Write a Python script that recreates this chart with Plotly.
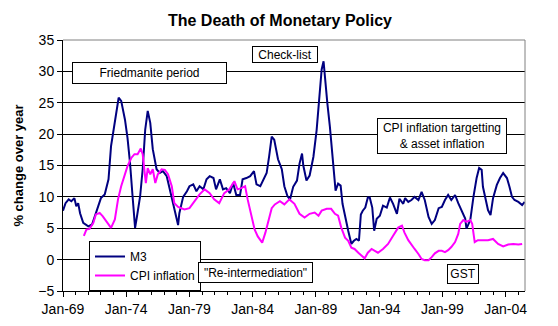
import plotly.graph_objects as go
from datetime import datetime, timedelta

# ---- data (decimal years, % change over year) ----
m3_year = [1969.0, 1969.2, 1969.45, 1969.66, 1969.9, 1970.05, 1970.2, 1970.35, 1970.6, 1971.0,
           1971.3, 1971.5, 1971.8, 1972.0, 1972.3, 1972.6, 1972.8, 1973.1, 1973.4, 1973.6,
           1973.9, 1974.1, 1974.3, 1974.5, 1974.7, 1974.85, 1975.1, 1975.3, 1975.5, 1975.7,
           1975.9, 1976.1, 1976.4, 1976.65, 1976.9, 1977.2, 1977.4, 1977.7, 1978.0, 1978.1,
           1978.2, 1978.5, 1978.8, 1979.0, 1979.3, 1979.55, 1979.8, 1980.1, 1980.35, 1980.6,
           1980.9, 1981.1, 1981.4, 1981.65, 1981.9, 1982.2, 1982.45, 1982.7, 1983.0, 1983.2,
           1983.5, 1983.8, 1984.1, 1984.3, 1984.6, 1984.8, 1985.1, 1985.3, 1985.5, 1985.7,
           1986.0, 1986.3, 1986.5, 1986.75, 1986.95, 1987.2, 1987.5, 1987.7, 1987.9, 1988.0,
           1988.25, 1988.5, 1988.8, 1989.05, 1989.25, 1989.45, 1989.6, 1989.7, 1989.9, 1990.1,
           1990.3, 1990.45, 1990.55, 1990.75, 1990.95, 1991.1, 1991.3, 1991.55, 1991.8, 1992.0,
           1992.2, 1992.4, 1992.55, 1992.7, 1992.9, 1993.1, 1993.25, 1993.45, 1993.6, 1993.8,
           1994.05, 1994.3, 1994.6, 1994.85, 1995.1, 1995.4, 1995.6, 1995.9, 1996.05, 1996.3,
           1996.55, 1996.8, 1997.1, 1997.35, 1997.6, 1997.9, 1998.15, 1998.4, 1998.7, 1998.95,
           1999.2, 1999.45, 1999.7, 2000.0, 2000.25, 2000.5, 2000.8, 2000.9, 2001.2, 2001.45,
           2001.7, 2001.9, 2002.1, 2002.2, 2002.4, 2002.6, 2002.8, 2003.0, 2003.3, 2003.55,
           2003.8, 2004.1, 2004.3, 2004.5, 2004.7, 2005.0, 2005.3, 2005.5]
m3_value = [7.8, 9.0, 9.6, 9.3, 9.8, 8.5, 9.0, 7.4, 5.85, 5.3,
            5.6, 6.9, 8.8, 9.8, 10.4, 12.8, 18.1, 22.3, 25.8, 25.3,
            22.3, 19.4, 15.4, 10.1, 5.05, 6.9, 10.1, 14.4, 20.7, 23.7,
            21.8, 17.6, 14.4, 13.8, 14.1, 13.3, 11.7, 9.0, 6.4, 5.5,
            7.4, 10.0, 10.9, 11.7, 12.0, 10.9, 11.7, 11.2, 12.8, 13.3,
            13.0, 11.2, 12.8, 11.2, 11.4, 10.6, 12.2, 10.3, 10.3, 12.8,
            13.0, 13.3, 14.1, 12.0, 11.7, 12.5, 13.8, 16.5, 19.6, 19.1,
            16.0, 14.4, 11.7, 10.1, 9.6, 11.6, 12.6, 15.3, 16.9, 15.0,
            12.6, 13.4, 16.4, 20.6, 25.5, 30.3, 31.6, 29.2, 24.9, 21.2,
            16.9, 13.7, 11.0, 12.1, 11.8, 8.9, 6.7, 4.6, 2.5, 3.0,
            3.3, 3.0, 7.2, 7.8, 8.3, 9.9, 9.9, 8.3, 4.6, 6.5,
            7.0, 8.6, 8.3, 9.9, 8.9, 7.3, 9.7, 8.9, 9.8, 9.2,
            9.5, 10.0, 9.5, 10.8, 9.5, 6.8, 5.7, 6.3, 8.2, 8.4,
            9.5, 10.3, 9.5, 10.3, 9.0, 7.9, 6.55, 4.95, 6.3, 10.0,
            13.0, 14.6, 14.3, 11.6, 9.8, 7.9, 7.1, 9.8, 11.9, 13.0,
            13.8, 13.0, 11.6, 10.0, 9.5, 9.2, 8.7, 9.2]

cpi_year = [1970.65, 1970.85, 1971.1, 1971.4, 1971.6, 1971.9, 1972.15, 1972.55, 1972.8, 1973.1,
            1973.35, 1973.6, 1973.9, 1974.1, 1974.4, 1974.65, 1974.9, 1975.15, 1975.3, 1975.55,
            1975.7, 1975.9, 1976.1, 1976.3, 1976.5, 1976.8, 1977.05, 1977.3, 1977.6, 1977.8,
            1978.1, 1978.6, 1979.0, 1979.4, 1979.8, 1980.2, 1980.6, 1980.95, 1981.35, 1981.75,
            1982.15, 1982.55, 1982.8, 1983.1, 1983.4, 1983.6, 1983.9, 1984.15, 1984.4, 1984.75,
            1985.0, 1985.3, 1985.5, 1985.75, 1986.15, 1986.5, 1986.9, 1987.3, 1987.7, 1988.1,
            1988.5, 1988.9, 1989.2, 1989.45, 1989.85, 1990.2, 1990.5, 1990.75, 1991.0, 1991.3,
            1991.55, 1991.8, 1992.05, 1992.35, 1992.6, 1992.85, 1993.1, 1993.4, 1993.65, 1993.9,
            1994.3, 1994.7, 1995.1, 1995.5, 1995.8, 1996.0, 1996.3, 1996.55, 1996.8, 1997.1,
            1997.35, 1997.6, 1997.9, 1998.15, 1998.4, 1998.7, 1998.95, 1999.2, 1999.45, 1999.7,
            2000.0, 2000.25, 2000.4, 2000.65, 2000.9, 2001.2, 2001.35, 2001.55, 2001.8, 2002.2,
            2002.6, 2003.0, 2003.4, 2003.8, 2004.2, 2004.6, 2005.0, 2005.3]
cpi_value = [3.8, 4.8, 4.9, 5.85, 7.2, 7.45, 6.9, 5.85, 5.05, 6.4,
             9.6, 11.7, 13.6, 14.9, 16.2, 16.8, 16.8, 17.7, 16.8, 12.2,
             14.6, 13.6, 14.4, 12.2, 13.6, 14.4, 14.3, 13.6, 11.7, 9.0,
             8.4, 8.0, 8.2, 9.3, 10.4, 11.2, 10.6, 9.6, 9.0, 10.6,
             11.2, 12.5, 11.2, 11.4, 11.7, 9.6, 6.9, 4.8, 3.7, 2.7,
             4.3, 6.9, 8.2, 8.8, 9.3, 8.8, 9.6, 8.9, 7.3, 6.7,
             7.3, 7.5, 7.0, 7.8, 8.1, 8.1, 7.3, 7.0, 5.1, 3.5,
             3.0, 1.9, 1.7, 1.1, 0.6, 0.2, 1.1, 1.7, 1.4, 1.1,
             1.7, 2.5, 3.8, 5.1, 5.4, 4.3, 3.1, 2.3, 1.7, 0.9,
             0.1, -0.1, -0.1, 0.4, 1.0, 1.4, 1.4, 1.2, 1.5, 2.0,
             2.8, 4.1, 5.7, 6.3, 6.0, 6.3, 5.7, 2.8, 3.1, 3.1,
             3.1, 3.3, 2.5, 2.1, 2.4, 2.5, 2.4, 2.5]

series_names = ["M3", "CPI inflation"]
tick_labels_format = "%b-%y"
title_text = "The Death of Monetary Policy"
y_title = "% change over year"


def to_date(y):
    base = datetime(int(y), 1, 1)
    return base + timedelta(days=(y - int(y)) * 365.25)


m3_dates = [to_date(y) for y in m3_year]
cpi_dates = [to_date(y) for y in cpi_year]

FONT = "Arial, 'Liberation Sans', sans-serif"
W, H = 558, 326
L, R, T, B = 63, 525, 40, 291


def px(xp):
    return (xp - L) / (R - L)


def py(yp):
    return (B - yp) / (B - T)


fig = go.Figure()
fig.add_trace(go.Scatter(x=m3_dates, y=m3_value, mode="lines", name=series_names[0],
                         line=dict(color="#000080", width=2)))
fig.add_trace(go.Scatter(x=cpi_dates, y=cpi_value, mode="lines", name=series_names[1],
                         line=dict(color="#FF00FF", width=2)))

boxes = [
    ("Friedmanite period", 149.5, 73, 151, 18),
    ("Check-list", 285, 55, 62, 13),
    ("CPI inflation targetting<br>& asset inflation", 442, 136, 126, 32),
    ("GST", 463, 274, 28, 16),
    ("\"Re-intermediation\"", 255.5, 272.5, 111, 17),
]
annotations = []
for txt, cx, cy, bw, bh in boxes:
    annotations.append(dict(text=txt, x=px(cx), y=py(cy), xref="paper", yref="paper",
                            xanchor="center", yanchor="middle", showarrow=False,
                            font=dict(family=FONT, size=12, color="black"),
                            bgcolor="white", bordercolor="black", borderwidth=1,
                            borderpad=1, width=bw, height=bh, align="center"))

fig.update_layout(
    width=W, height=H,
    margin=dict(l=L, r=W - R, t=T, b=H - B, pad=0),
    paper_bgcolor="white", plot_bgcolor="white",
    font=dict(family=FONT, size=12, color="black"),
    title=dict(text="<b>" + title_text + "</b>", x=280 / W, xanchor="center",
               y=1 - 20 / H, yanchor="middle", font=dict(family=FONT, size=16, color="black")),
    showlegend=True,
    legend=dict(x=px(89), y=py(241), xanchor="left", yanchor="top",
                bordercolor="black", borderwidth=1, bgcolor="white",
                font=dict(family=FONT, size=12, color="black"),
                itemwidth=30, tracegroupgap=0),
    annotations=annotations,
    shapes=[
        dict(type="line", xref="paper", yref="paper", x0=0, x1=1, y0=1, y1=1,
             line=dict(color="#808080", width=1), layer="above"),
        dict(type="line", xref="paper", yref="paper", x0=1, x1=1, y0=0, y1=1,
             line=dict(color="#808080", width=1), layer="above"),
    ],
)

fig.update_xaxes(
    type="date", range=[datetime(1969, 1, 1), datetime(2005, 7, 12)],
    tick0="1969-01-01", dtick="M60", tickformat=tick_labels_format,
    ticks="outside", ticklen=5, tickcolor="black", tickwidth=1,
    minor=dict(dtick="M12", ticks="outside", ticklen=3, tickcolor="black", showgrid=False),
    showline=True, linecolor="black", linewidth=1, showgrid=False, zeroline=False,
    tickfont=dict(family=FONT, size=14, color="black"), automargin=False,
)
fig.update_yaxes(
    range=[-5, 35], dtick=5, tick0=0,
    ticks="outside", ticklen=5, tickcolor="black", tickwidth=1,
    showline=True, linecolor="black", linewidth=1,
    showgrid=True, gridcolor="black", gridwidth=1, zeroline=False,
    tickfont=dict(family=FONT, size=14, color="black"),
    title=dict(text="<b>" + y_title + "</b>", standoff=11,
               font=dict(family=FONT, size=13, color="black")),
    automargin=False,
)

fig.write_html("out.html")
